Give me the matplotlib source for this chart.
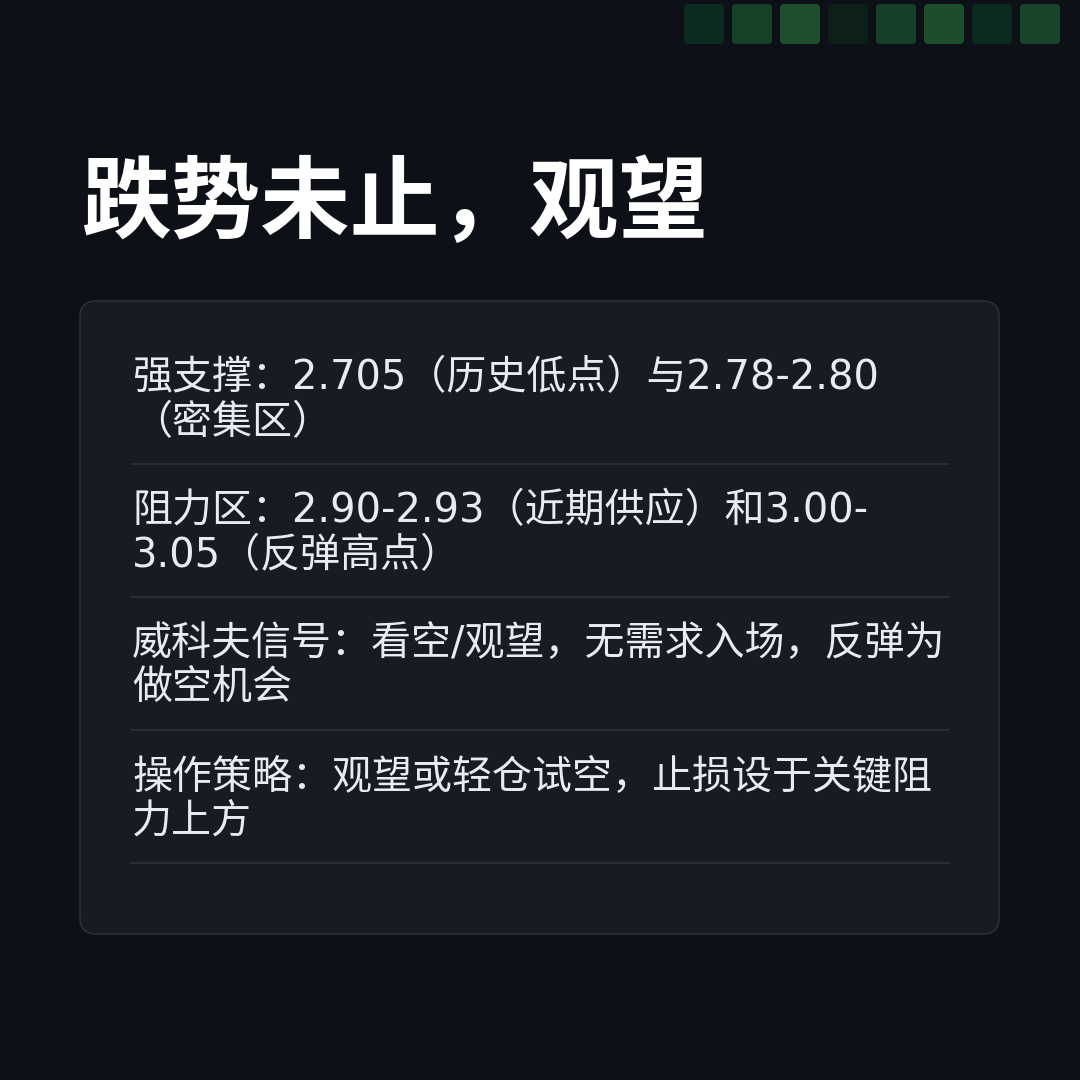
import matplotlib
matplotlib.use("Agg")
import matplotlib.pyplot as plt
from matplotlib.patches import FancyBboxPatch

plt.rcParams['font.family'] = ['DejaVu Sans', 'Noto Sans CJK SC']

# ---- data ----
title = "跌势未止，观望"
items = [
    ["强支撑：2.705（历史低点）与2.78-2.80", "（密集区）"],
    ["阻力区：2.90-2.93（近期供应）和3.00-", "3.05（反弹高点）"],
    ["威科夫信号：看空/观望，无需求入场，反弹为", "做空机会"],
    ["操作策略：观望或轻仓试空，止损设于关键阻", "力上方"],
]
square_colors = ["#0b2c1e", "#164227", "#1d4f2d", "#0e2119",
                 "#153f26", "#1c4e2c", "#0a2b1e", "#18452a"]

BG = "#0d1017"
CARD = "#181b23"
CARD_EDGE = "#2b2f38"
SEP = "#2c3039"
TEXT = "#e8ebf0"

fig = plt.figure(figsize=(10.8, 10.8), dpi=100, facecolor=BG)
ax = fig.add_axes([0, 0, 1, 1])
ax.set_xlim(0, 1080)
ax.set_ylim(1080, 0)
ax.axis('off')
ax.set_facecolor(BG)

# squares strip
for i, c in enumerate(square_colors):
    x0 = 684 + i * 48
    ax.add_patch(FancyBboxPatch((x0 + 3, 7), 34, 34,
                                boxstyle="round,pad=3,rounding_size=4",
                                facecolor=c, edgecolor='none'))

# title
ax.text(81, 231, title, fontsize=64.5, fontweight='bold', color='white',
        va='baseline', ha='left')

# card
ax.add_patch(FancyBboxPatch((96, 317), 887, 601,
                            boxstyle="round,pad=16,rounding_size=16",
                            facecolor=CARD, edgecolor=CARD_EDGE, linewidth=1.2))

# items
for k, lines in enumerate(items):
    base = 389 + k * 133
    for j, ln in enumerate(lines):
        ax.text(132, base + j * 45, ln, fontsize=28.8, color=TEXT,
                va='baseline', ha='left')
    ax.plot([131, 949], [464 + k * 133] * 2, color=SEP, linewidth=1.2)

fig.savefig("out.png", dpi=100, facecolor=BG)
